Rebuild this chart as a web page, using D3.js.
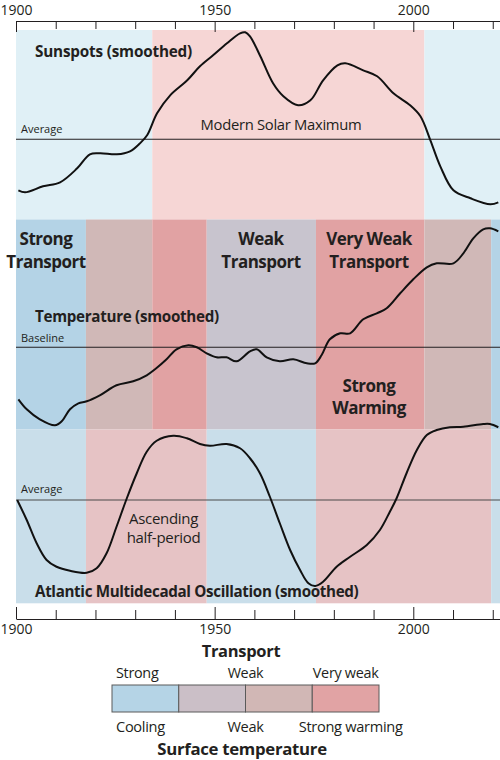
<!DOCTYPE html>
<html>
<head>
<meta charset="utf-8">
<script src="https://cdn.jsdelivr.net/npm/d3@7"></script>
<style>
  body { margin: 0; background: #fff; }
  text { font-family: "Open Sans", "Noto Sans", sans-serif; fill: #231f20; }
  .bold { font-weight: 700; }
</style>
</head>
<body>
<svg id="chart" width="500" height="760"></svg>
<script>
// ---- data ----
// smoothed sunspot anomaly, arbitrary units, 0 = average
var sunspots = [
  [1900.6,-0.51],[1902.3,-0.53],[1906.8,-0.47],[1911.1,-0.43],[1915.4,-0.29],
  [1918.6,-0.15],[1921.2,-0.14],[1925.4,-0.15],[1928.7,-0.12],[1931.2,-0.04],
  [1933.0,0.04],[1935.5,0.26],[1938.8,0.44],[1943.1,0.59],[1946.3,0.73],
  [1949.6,0.84],[1953.1,0.96],[1956.4,1.06],[1957.7,1.07],[1958.9,1.03],
  [1961.5,0.83],[1964.7,0.56],[1967.3,0.43],[1971.0,0.34],[1974.1,0.39],
  [1977.3,0.59],[1980.9,0.74],[1982.9,0.76],[1987.4,0.69],[1990.9,0.63],
  [1995.0,0.46],[1999.2,0.34],[2001.8,0.23],[2004.3,-0.01],[2006.8,-0.27],
  [2010.1,-0.51],[2014.4,-0.59],[2019.4,-0.65],[2021.4,-0.63]
];
// smoothed temperature anomaly (deg C), 0 = baseline
var temperature = [
  [1900.6,-0.26],[1902.7,-0.31],[1906.0,-0.36],[1909.8,-0.39],[1911.5,-0.37],
  [1913.6,-0.31],[1915.7,-0.28],[1917.8,-0.27],[1921.1,-0.24],[1925.3,-0.19],
  [1929.5,-0.17],[1932.9,-0.14],[1935.0,-0.11],[1937.9,-0.06],[1940.4,-0.01],
  [1943.4,0.01],[1945.5,0.0],[1948.0,-0.03],[1950.5,-0.05],[1953.0,-0.05],
  [1955.5,-0.07],[1958.9,-0.02],[1960.6,-0.01],[1963.1,-0.05],[1966.4,-0.07],
  [1969.8,-0.06],[1973.2,-0.08],[1975.3,-0.08],[1976.9,-0.04],[1979.0,0.04],
  [1981.6,0.07],[1984.1,0.07],[1987.4,0.14],[1990.8,0.17],[1993.3,0.195],
  [1996.7,0.27],[2000.0,0.34],[2003.4,0.40],[2005.9,0.42],[2010.1,0.42],
  [2012.6,0.47],[2015.1,0.545],[2017.6,0.59],[2019.3,0.595],[2021.4,0.58]
];
// smoothed Atlantic Multidecadal Oscillation index, 0 = average
var amo = [
  [1900.3,0.0],[1902.7,-0.08],[1905.2,-0.173],[1907.7,-0.24],[1910.2,-0.267],
  [1913.6,-0.283],[1917.8,-0.291],[1920.3,-0.273],[1922.8,-0.213],[1925.3,-0.107],
  [1927.9,0.007],[1930.4,0.107],[1932.9,0.193],[1935.4,0.237],[1939.6,0.257],
  [1943.0,0.247],[1946.3,0.224],[1948.8,0.217],[1953.0,0.224],[1956.4,0.207],
  [1958.9,0.167],[1961.4,0.107],[1963.9,0.013],[1966.4,-0.093],[1969.0,-0.2],
  [1971.5,-0.28],[1973.6,-0.333],[1975.3,-0.344],[1977.3,-0.327],[1980.7,-0.267],
  [1984.1,-0.227],[1988.3,-0.18],[1991.6,-0.12],[1994.1,-0.047],[1995.8,0.007],
  [1998.3,0.107],[2000.9,0.2],[2003.4,0.26],[2005.9,0.28],[2009.2,0.291],
  [2012.6,0.293],[2017.6,0.304],[2019.3,0.304],[2021.4,0.291]
];

// period boundaries (years) and what each period is
var solarBreaks = [1900, 1934.3, 2002.8, 2022];
var solarPhase = ["low", "high", "low"];
var transportBreaks = [1900, 1917.6, 1934.3, 1948, 1975.5, 2002.8, 2019.6, 2022];
var transportState = ["strong", "weakWarm", "veryWeak", "weak", "veryWeak", "weakWarm", "strong"];
var amoBreaks = [1900, 1917.6, 1948, 1975.5, 2019.6, 2022];
var amoPhase = ["cool", "warm", "cool", "warm", "cool"];

var decadeTicks = d3.range(1900, 2021, 10);
var labelYears = [1900, 1950, 2000];
var legendKeys = ["strong", "weak", "weakWarm", "veryWeak"];
var legendTop = ["Strong", "Weak", "Very weak"];
var legendBottom = ["Cooling", "Weak", "Strong warming"];

// ---- colours ----
var solarColor = { low: "#e0f0f6", high: "#f6d6d5" };
var transportColor = { strong: "#b4d3e6", weak: "#c8c4ce", weakWarm: "#d0b8b7", veryWeak: "#e1a2a3" };
var amoColor = { cool: "#c9deea", warm: "#e6c3c5" };
var legendColor = { strong: "#b5d4e6", weak: "#cbbfc7", weakWarm: "#d1b7b5", veryWeak: "#e1a3a4" };

// ---- layout ----
var svg = d3.select("#chart");
var x = d3.scaleLinear().domain([1900, 2022]).range([16, 500.7]);
var panels = {
  sun: [30, 219.5],
  mid: [219.5, 429.5],
  amo: [429.5, 603.3]
};
var sunY = d3.scaleLinear().domain([-1, 1]).range([239.3, 39.3]);
var tempY = d3.scaleLinear().domain([-0.5, 0.5]).range([447.3, 247.3]);
var amoY = d3.scaleLinear().domain([-0.4, 0.4]).range([600, 400]);

function bands(breaks, kinds, colors, yr) {
  svg.append("g").selectAll("rect")
    .data(kinds)
    .enter().append("rect")
    .attr("x", function (d, i) { return x(breaks[i]); })
    .attr("width", function (d, i) { return x(breaks[i + 1]) - x(breaks[i]); })
    .attr("y", yr[0])
    .attr("height", yr[1] - yr[0])
    .attr("fill", function (d) { return colors[d]; });
}
bands(solarBreaks, solarPhase, solarColor, panels.sun);
bands(transportBreaks, transportState, transportColor, panels.mid);
bands(amoBreaks, amoPhase, amoColor, panels.amo);

// reference lines (average / baseline)
[[sunY, "#231f20"], [tempY, "#231f20"], [amoY, "#4a4a4a"]].forEach(function (p) {
  svg.append("line")
    .attr("x1", x(1900)).attr("x2", x(2022))
    .attr("y1", p[0](0)).attr("y2", p[0](0))
    .attr("stroke", p[1]).attr("stroke-width", 1.1);
});

// text helper
function label(txt, px, py, size, opts) {
  opts = opts || {};
  return svg.append("text")
    .attr("x", px).attr("y", py)
    .attr("font-size", size)
    .attr("class", opts.bold ? "bold" : null)
    .attr("text-anchor", opts.anchor || "start")
    .attr("letter-spacing", opts.ls || null)
    .text(txt);
}

// panel texts
label("Sunspots (smoothed)", 35, 57, 15.3, { bold: true, ls: -0.2 });
label("Average", 21, 133, 11);
label("Modern Solar Maximum", 281, 130, 14.8, { anchor: "middle", ls: -0.3 });

label("Strong", 46, 245, 17, { bold: true, anchor: "middle", ls: -0.5 });
label("Transport", 46, 268, 17, { bold: true, anchor: "middle", ls: -0.5 });
label("Weak", 261, 245, 17, { bold: true, anchor: "middle", ls: -0.5 });
label("Transport", 261, 268, 17, { bold: true, anchor: "middle", ls: -0.5 });
label("Very Weak", 369, 245, 17, { bold: true, anchor: "middle", ls: -0.5 });
label("Transport", 369, 268, 17, { bold: true, anchor: "middle", ls: -0.5 });
label("Temperature (smoothed)", 35, 321.7, 15.2, { bold: true, ls: -0.3 });
label("Baseline", 21, 341.5, 11);
label("Strong", 369, 391.7, 17, { bold: true, anchor: "middle", ls: -0.5 });
label("Warming", 369, 413.5, 17, { bold: true, anchor: "middle", ls: -0.5 });

label("Average", 21, 492.5, 11);
label("Ascending", 163.5, 524, 15, { anchor: "middle", ls: -0.3 });
label("half-period", 163.5, 542.7, 15, { anchor: "middle", ls: -0.3 });
label("Atlantic Multidecadal Oscillation (smoothed)", 35, 596.7, 15.2, { bold: true, ls: -0.35 });

// curves
var line = d3.line()
  .x(function (d) { return x(d[0]); })
  .curve(d3.curveCatmullRom.alpha(0.5));
[[sunspots, sunY], [temperature, tempY], [amo, amoY]].forEach(function (s) {
  svg.append("path")
    .datum(s[0])
    .attr("fill", "none")
    .attr("stroke", "#111")
    .attr("stroke-width", 2)
    .attr("d", line.y(function (d) { return s[1](d[1]); }));
});

// axes
function fmt(d) { return labelYears.indexOf(d) >= 0 ? d : ""; }
var topAxis = svg.append("g")
  .attr("transform", "translate(0,21)")
  .call(d3.axisTop(x).tickValues(decadeTicks).tickFormat(fmt)
    .tickSizeInner(-8).tickSizeOuter(0).tickPadding(6));
topAxis.selectAll(".tick line").filter(function (d) { return d % 50 === 0; }).attr("y2", 11);

var bottomAxis = svg.append("g")
  .attr("transform", "translate(0,619)")
  .call(d3.axisBottom(x).tickValues(decadeTicks).tickFormat(fmt)
    .tickSizeInner(-9).tickSizeOuter(0).tickPadding(5));
bottomAxis.selectAll(".tick line").filter(function (d) { return d % 50 === 0; }).attr("y2", -12);

[topAxis, bottomAxis].forEach(function (g) {
  g.attr("font-family", null).attr("font-size", null);
  g.selectAll("text").attr("font-size", 14).attr("fill", "#231f20");
  g.selectAll("line, path").attr("stroke", "#231f20");
});

// legend
label("Transport", 241, 657, 16.5, { bold: true, anchor: "middle", ls: -0.3 });
var lx = d3.scaleLinear().domain([0, legendKeys.length]).range([112, 379]);
svg.append("g").selectAll("rect")
  .data(legendKeys)
  .enter().append("rect")
  .attr("x", function (d, i) { return lx(i); })
  .attr("width", lx(1) - lx(0))
  .attr("y", 685)
  .attr("height", 27)
  .attr("fill", function (d) { return legendColor[d]; })
  .attr("stroke", "#5a5a5a")
  .attr("stroke-width", 1);

label(legendTop[0], lx(0) + 4, 677.5, 14.4, { ls: -0.3 });
label(legendTop[1], lx(2), 677.5, 14.4, { anchor: "middle", ls: -0.3 });
label(legendTop[2], lx(3.5), 677.5, 14.4, { anchor: "middle", ls: -0.3 });
label(legendBottom[0], lx(0) + 4, 731.5, 14.6, { ls: -0.3 });
label(legendBottom[1], lx(2), 731.5, 14.6, { anchor: "middle", ls: -0.3 });
label(legendBottom[2], lx(3.5) + 5, 731.5, 14.6, { anchor: "middle", ls: -0.3 });
label("Surface temperature", 242, 754.5, 16.8, { bold: true, anchor: "middle", ls: -0.3 });
</script>
</body>
</html>
